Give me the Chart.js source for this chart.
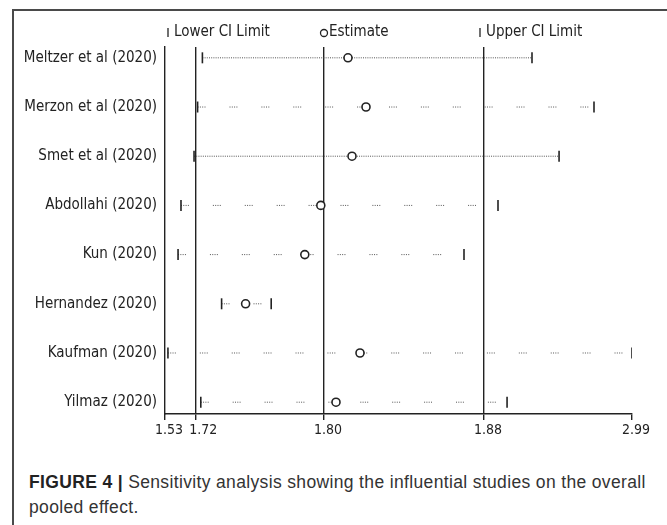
<!DOCTYPE html>
<html>
<head>
<meta charset="utf-8">
<script src="https://cdn.jsdelivr.net/npm/chart.js@4.4.1/dist/chart.umd.min.js"></script>
<style>
  body { margin: 0; background: #fff; width: 667px; height: 525px; overflow: hidden; position: relative; }
  #frame { position: absolute; left: 12px; top: 9px; right: -5px; bottom: -5px; border-top: 2px solid #4a4a4a; border-left: 2px solid #4a4a4a; }
  #wrap { position: absolute; left: 0; top: 0; width: 667px; height: 450px; }
  #caption { position: absolute; left: 29px; top: 470px; font-family: "Liberation Sans", Arial, sans-serif; font-size: 17.5px; letter-spacing: 0.35px; line-height: 25px; color: #333; white-space: nowrap; }
  #caption b { color: #222; }
</style>
</head>
<body>
<div id="frame"></div>
<div id="wrap"><canvas id="sens" width="667" height="450"></canvas></div>
<div id="caption"><b>FIGURE 4 |</b> Sensitivity analysis showing the influential studies on the overall<br>pooled effect.</div>
<script>
const studies = ["Meltzer et al (2020)", "Merzon et al (2020)", "Smet et al (2020)", "Abdollahi (2020)",
  "Kun (2020)", "Hernandez (2020)", "Kaufman (2020)", "Yilmaz (2020)"];
const lowerCI  = [1.724, 1.721, 1.708, 1.628, 1.610, 1.736, 1.548, 1.723];
const estimate = [1.812, 1.821, 1.814, 1.798, 1.788, 1.751, 1.818, 1.806];
const upperCI  = [2.240, 2.705, 2.443, 1.985, 1.870, 1.767, 2.990, 2.053];
const tickValues = [1.53, 1.72, 1.80, 1.88, 2.99];
// the printed axis is not linear: where each tick value sits along it
const tickStops = [0, 31, 159, 319, 467];

function toAxis(v) {
  for (let i = 1; i < tickValues.length; i++) {
    if (v <= tickValues[i] || i === tickValues.length - 1) {
      const t = (v - tickValues[i - 1]) / (tickValues[i] - tickValues[i - 1]);
      return tickStops[i - 1] + t * (tickStops[i] - tickStops[i - 1]);
    }
  }
}

const narrow = '"Liberation Sans Narrow", "DejaVu Sans Condensed", "Arial Narrow", sans-serif';
const ink = '#222';
const denseRows = [0, 2];

const datasets = studies.map((name, i) => ({
  label: name,
  data: [
    { x: toAxis(lowerCI[i]), y: i + 1 },
    { x: toAxis(estimate[i]), y: i + 1 },
    { x: toAxis(upperCI[i]), y: i + 1 }
  ],
  showLine: true,
  borderColor: '#555',
  borderWidth: 1,
  borderDash: denseRows.includes(i) ? [1, 1.2] : [1, 1.3, 1, 1.3, 1, 1.3, 1, 24],
  pointStyle: ['line', 'circle', 'line'],
  pointRotation: [90, 0, 90],
  pointRadius: [5.5, 4, 5.5],
  pointBorderWidth: [1.6, 1.6, 1.6],
  pointBorderColor: ink,
  pointBackgroundColor: '#fff'
}));

const legendPlugin = {
  id: 'ciLegend',
  afterDraw(chart) {
    const ctx = chart.ctx;
    const xs = chart.scales.x;
    const y = 32;
    ctx.save();
    ctx.font = '15px ' + narrow;
    ctx.fillStyle = ink;
    ctx.strokeStyle = ink;
    ctx.lineWidth = 1.3;
    ctx.textBaseline = 'middle';
    const lowX = xs.left + 3;
    ctx.beginPath(); ctx.moveTo(lowX, y - 4); ctx.lineTo(lowX, y + 5); ctx.stroke();
    ctx.fillText('Lower CI Limit', lowX + 6, y);
    const estX = xs.getPixelForValue(toAxis(1.80));
    ctx.beginPath(); ctx.arc(estX, y + 1, 3.5, 0, Math.PI * 2); ctx.stroke();
    ctx.fillText('Estimate', estX + 5, y);
    const upX = xs.getPixelForValue(toAxis(1.88)) - 4;
    ctx.beginPath(); ctx.moveTo(upX, y - 4); ctx.lineTo(upX, y + 5); ctx.stroke();
    ctx.fillText('Upper CI Limit', upX + 6, y);
    ctx.restore();
  }
};

new Chart(document.getElementById('sens'), {
  type: 'scatter',
  data: { datasets: datasets },
  options: {
    responsive: false,
    animation: false,
    layout: { padding: { top: 47, right: 35, left: 0, bottom: 0 } },
    scales: {
      x: {
        type: 'linear',
        min: tickStops[0],
        max: tickStops[tickStops.length - 1],
        afterBuildTicks: axis => { axis.ticks = tickStops.map(v => ({ value: v })); },
        afterFit: axis => { axis.height = 36; },
        ticks: {
          callback: (val) => {
            const k = tickStops.indexOf(val);
            if (k < 0) return '';
            // 1.72 is nudged right in the original so it clears 1.53
            return (k === 1 ? '\u2002' : '') + tickValues[k].toFixed(2);
          },
          font: { family: narrow, size: 14 },
          color: ink,
          padding: 2,
          labelOffset: 4,
          maxRotation: 0,
          autoSkip: false
        },
        grid: {
          color: c => (c.index > 0 && c.index < tickStops.length - 1) ? ink : 'rgba(0,0,0,0)',
          lineWidth: 1.4,
          tickColor: ink,
          tickLength: 6
        },
        border: { display: true, color: ink, width: 1.4 }
      },
      y: {
        type: 'linear',
        reverse: true,
        min: 0.78,
        max: 8.24,
        afterBuildTicks: axis => { axis.ticks = studies.map((s, i) => ({ value: i + 1 })); },
        afterFit: axis => { axis.width = 165; },
        ticks: {
          callback: (val) => studies[val - 1] || '',
          font: { family: narrow, size: 15 },
          color: ink,
          padding: 8,
          autoSkip: false
        },
        grid: { display: false, drawTicks: false },
        border: { display: true, color: ink, width: 1.4 }
      }
    },
    plugins: {
      legend: { display: false },
      tooltip: { enabled: false }
    }
  },
  plugins: [legendPlugin]
});
</script>
</body>
</html>
